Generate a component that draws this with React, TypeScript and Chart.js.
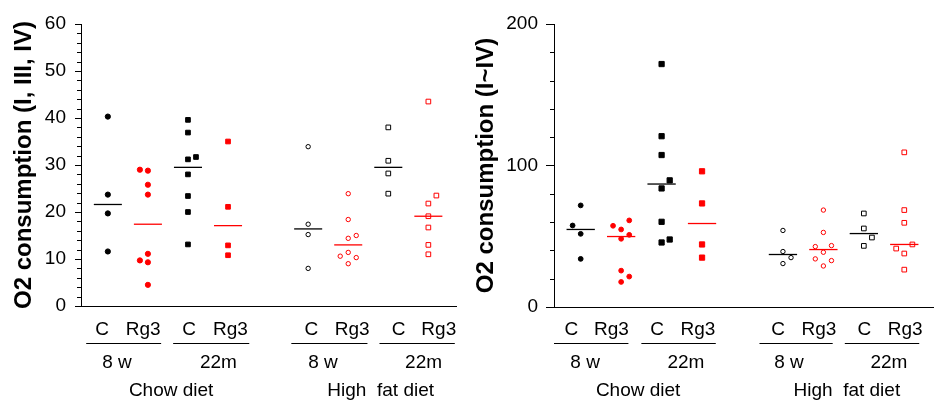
import React, { useEffect, useRef } from 'react';
import { Chart, registerables } from 'chart.js';

Chart.register(...registerables);

const FONT = "'Liberation Sans', Arial, sans-serif";
const RED = '#ff0000';
const BLACK = '#000000';

// Category positions on the x axis (gap between diets)
const groupPos = [0, 1, 2, 3, 5, 6, 7, 8];
const subLabels = ['C', 'Rg3', 'C', 'Rg3', 'C', 'Rg3', 'C', 'Rg3'];
const ageLabels = ['8 w', '22m', '8 w', '22m'];
const dietLabels = ['Chow diet', 'High  fat diet'];

// ---------- Left panel: O2 consumption (I, III, IV) ----------
const leftTicks = [0, 10, 20, 30, 40, 50, 60];
const L_chow8wC = [40.3, 23.7, 19.7, 11.6];
const L_chow8wC_j = [0, 0, 0, 0];
const L_chow8wRg3 = [29.0, 28.8, 25.8, 23.7, 11.1, 9.7, 9.3, 4.5];
const L_chow8wRg3_j = [-1, 0, 0, 0, 0, -1, 0, 0];
const L_chow22mC = [39.6, 36.9, 31.2, 31.7, 28.0, 23.4, 20.0, 13.1];
const L_chow22mC_j = [0, 0, 0, 1, 0, 0, 0, 0];
const L_chow22mRg3 = [35.0, 21.1, 12.9, 10.8];
const L_chow22mRg3_j = [0, 0, 0, 0];
const L_hfd8wC = [33.9, 17.4, 15.2, 8.0];
const L_hfd8wC_j = [0, 0, 0, 0];
const L_hfd8wRg3 = [23.9, 18.4, 14.4, 15.0, 11.4, 10.6, 10.3, 9.0];
const L_hfd8wRg3_j = [0, 0, 0, 1, 0, -1, 1, 0];
const L_hfd22mC = [38.0, 30.9, 28.2, 23.9];
const L_hfd22mC_j = [0, 0, 0, 0];
const L_hfd22mRg3 = [43.5, 23.5, 21.8, 19.1, 16.7, 13.0, 11.0];
const L_hfd22mRg3_j = [0, 1, 0, 0, 0, 0, 0];
const L_centers = [21.6, 17.4, 29.5, 17.1, 16.4, 13.0, 29.5, 19.1];

// ---------- Right panel: O2 consumption (I~IV) ----------
const rightTicks = [0, 100, 200];
const R_chow8wC = [71.8, 57.6, 51.7, 34.0];
const R_chow8wC_j = [0, -1, 0, 0];
const R_chow8wRg3 = [57.4, 61.2, 54.8, 48.2, 51.0, 25.7, 21.5, 17.7];
const R_chow8wRg3_j = [-1, 1, 0, 0, 1, 0, 1, 0];
const R_chow22mC = [171.7, 120.7, 107.4, 89.5, 83.8, 60.2, 47.7, 45.6];
const R_chow22mC_j = [0, 0, 0, 1, 0, 0, 1, 0];
const R_chow22mRg3 = [95.9, 73.2, 44.2, 34.9];
const R_chow22mRg3_j = [0, 0, 0, 0];
const R_hfd8wC = [54.1, 39.2, 34.9, 30.7];
const R_hfd8wC_j = [0, 0, 1, 0];
const R_hfd8wRg3 = [68.5, 52.7, 42.7, 43.4, 38.7, 34.0, 32.8, 29.0];
const R_hfd8wRg3_j = [0, 0, -1, 1, 0, -1, 1, 0];
const R_hfd22mC = [66.1, 55.5, 49.1, 43.2];
const R_hfd22mC_j = [0, 0, 1, 0];
const R_hfd22mRg3 = [109.3, 68.5, 59.5, 44.2, 41.3, 37.8, 26.4];
const R_hfd22mRg3_j = [0, 0, 0, 1, -1, 0, 0];
const R_centers = [54.8, 49.8, 86.9, 59.0, 37.1, 40.6, 51.9, 44.2];

type Style = { shape: 'circle' | 'rect'; filled: boolean; color: string };
const styles: Style[] = [
  { shape: 'circle', filled: true, color: BLACK },
  { shape: 'circle', filled: true, color: RED },
  { shape: 'rect', filled: true, color: BLACK },
  { shape: 'rect', filled: true, color: RED },
  { shape: 'circle', filled: false, color: BLACK },
  { shape: 'circle', filled: false, color: RED },
  { shape: 'rect', filled: false, color: BLACK },
  { shape: 'rect', filled: false, color: RED },
];

type PanelCfg = {
  values: number[][];
  jitter: number[][];
  centers: number[];
  ticks: number[];
  yMax: number;
  minorStep: number;
  title: string;
  width: number;
  left: number;
  yWidth: number;
  tickLen: number;
  tickPad: number;
  titlePad: number;
  padTop: number;
  padRight: number;
  padBottom: number;
  xMin: number;
  xMax: number;
  sizes: { fc: number; fr: number; oc: number; or: number };
  subPos: number[];
  linePos: number[][];
  agePos: number[];
  dietPos: number[];
};

const leftCfg: PanelCfg = {
  values: [L_chow8wC, L_chow8wRg3, L_chow22mC, L_chow22mRg3, L_hfd8wC, L_hfd8wRg3, L_hfd22mC, L_hfd22mRg3],
  jitter: [L_chow8wC_j, L_chow8wRg3_j, L_chow22mC_j, L_chow22mRg3_j, L_hfd8wC_j, L_hfd8wRg3_j, L_hfd22mC_j, L_hfd22mRg3_j],
  centers: L_centers,
  ticks: leftTicks,
  yMax: 60,
  minorStep: 2,
  title: 'O2 consumption (I, III, IV)',
  width: 470,
  left: 0,
  yWidth: 81,
  tickLen: 6,
  tickPad: 9,
  titlePad: 10,
  padTop: 24,
  padRight: 14,
  padBottom: 107,
  xMin: -0.67,
  xMax: 8.69,
  sizes: { fc: 2.6, fr: 3.3, oc: 2.2, or: 3.3 },
  subPos: [-0.14, 0.88, 2.03, 3.06, 5.08, 6.1, 7.26, 8.26],
  linePos: [[-0.54, 1.33], [1.63, 3.53], [4.58, 6.48], [6.78, 8.66]],
  agePos: [0.23, 2.76, 5.37, 7.88],
  dietPos: [1.58, 6.81],
};

const rightCfg: PanelCfg = {
  values: [R_chow8wC, R_chow8wRg3, R_chow22mC, R_chow22mRg3, R_hfd8wC, R_hfd8wRg3, R_hfd22mC, R_hfd22mRg3],
  jitter: [R_chow8wC_j, R_chow8wRg3_j, R_chow22mC_j, R_chow22mRg3_j, R_hfd8wC_j, R_hfd8wRg3_j, R_hfd22mC_j, R_hfd22mRg3_j],
  centers: R_centers,
  ticks: rightTicks,
  yMax: 200,
  minorStep: 20,
  title: 'O2 consumption (I~IV)',
  width: 468,
  left: 470,
  yWidth: 84,
  tickLen: 8,
  tickPad: 8,
  titlePad: 2,
  padTop: 24,
  padRight: 2,
  padBottom: 106,
  xMin: -0.66,
  xMax: 8.71,
  sizes: { fc: 2.4, fr: 3.7, oc: 2.2, or: 3.3 },
  subPos: [-0.23, 0.76, 1.89, 2.9, 4.88, 5.89, 7.01, 8.02],
  linePos: [[-0.66, 1.18], [1.5, 3.34], [4.42, 6.23], [6.53, 8.37]],
  agePos: [0.11, 2.6, 5.15, 7.62],
  dietPos: [1.42, 6.58],
};

const JIT = 0.2;
const HALF = 0.35;

function makeAnnotPlugin(cfg: PanelCfg) {
  return {
    id: 'annot',
    afterDraw(chart: any) {
      const { ctx, chartArea } = chart;
      const xs = chart.scales.x;
      const ys = chart.scales.y;
      ctx.save();
      ctx.strokeStyle = BLACK;
      ctx.lineWidth = 1;
      // minor ticks
      const majorStep = cfg.ticks[1] - cfg.ticks[0];
      const n = Math.round(cfg.yMax / cfg.minorStep);
      for (let k = 0; k <= n; k++) {
        const v = k * cfg.minorStep;
        const r = v / majorStep;
        if (Math.abs(r - Math.round(r)) < 1e-6) continue;
        const py = Math.round(ys.getPixelForValue(v)) + 0.5;
        ctx.beginPath();
        ctx.moveTo(chartArea.left - 4, py);
        ctx.lineTo(chartArea.left, py);
        ctx.stroke();
      }
      // category labels
      ctx.fillStyle = BLACK;
      ctx.font = `19px ${FONT}`;
      ctx.textAlign = 'center';
      ctx.textBaseline = 'alphabetic';
      subLabels.forEach((t, i) => {
        ctx.fillText(t, xs.getPixelForValue(cfg.subPos[i]), 335);
      });
      cfg.linePos.forEach(([a, b]) => {
        ctx.beginPath();
        ctx.moveTo(xs.getPixelForValue(a), 343.5);
        ctx.lineTo(xs.getPixelForValue(b), 343.5);
        ctx.stroke();
      });
      ageLabels.forEach((t, i) => {
        ctx.fillText(t, xs.getPixelForValue(cfg.agePos[i]), 368);
      });
      dietLabels.forEach((t, i) => {
        ctx.fillText(t, xs.getPixelForValue(cfg.dietPos[i]), 396);
      });
      ctx.restore();
    },
  };
}

function buildDatasets(cfg: PanelCfg) {
  const ds: any[] = [];
  cfg.values.forEach((vals, g) => {
    const st = styles[g];
    const r = st.shape === 'circle' ? (st.filled ? cfg.sizes.fc : cfg.sizes.oc) : st.filled ? cfg.sizes.fr : cfg.sizes.or;
    ds.push({
      type: 'scatter',
      data: vals.map((v, i) => ({ x: groupPos[g] + cfg.jitter[g][i] * JIT, y: v })),
      pointStyle: st.shape,
      pointRadius: r,
      pointBorderWidth: 1,
      pointBackgroundColor: st.filled ? st.color : '#ffffff',
      pointBorderColor: st.color,
      showLine: false,
      order: 2,
    });
  });
  cfg.centers.forEach((m, g) => {
    ds.push({
      type: 'scatter',
      data: [
        { x: groupPos[g] - HALF, y: m },
        { x: groupPos[g] + HALF, y: m },
      ],
      showLine: true,
      borderColor: styles[g].color,
      borderWidth: 1.3,
      pointRadius: 0,
      order: 1,
    });
  });
  return ds;
}

function Panel({ cfg }: { cfg: PanelCfg }) {
  const ref = useRef<HTMLCanvasElement | null>(null);
  useEffect(() => {
    if (!ref.current) return;
    const chart = new Chart(ref.current, {
      type: 'scatter',
      data: { datasets: buildDatasets(cfg) },
      plugins: [makeAnnotPlugin(cfg)],
      options: {
        responsive: false,
        animation: false,
        events: [],
        layout: { padding: { left: 0, top: cfg.padTop, right: cfg.padRight, bottom: cfg.padBottom } },
        plugins: {
          legend: { display: false },
          tooltip: { enabled: false },
        },
        scales: {
          x: {
            type: 'linear',
            min: cfg.xMin,
            max: cfg.xMax,
            grid: { display: false, drawTicks: false },
            border: { display: true, color: BLACK, width: 1 },
            ticks: { display: false },
            afterFit: (s: any) => {
              s.height = 0;
            },
          },
          y: {
            type: 'linear',
            min: 0,
            max: cfg.yMax,
            afterFit: (s: any) => {
              s.width = cfg.yWidth;
            },
            afterBuildTicks: (s: any) => {
              s.ticks = cfg.ticks.map((v) => ({ value: v }));
            },
            ticks: {
              color: BLACK,
              font: { family: FONT, size: 19 },
              padding: cfg.tickPad,
            },
            grid: { drawOnChartArea: false, drawTicks: true, tickLength: cfg.tickLen, color: BLACK, lineWidth: 1 },
            border: { display: true, color: BLACK, width: 1 },
            title: {
              display: true,
              text: cfg.title,
              color: BLACK,
              font: { family: FONT, size: 24, weight: 'bold' },
              padding: { top: cfg.titlePad, bottom: 0 },
            },
          },
        },
      } as any,
    });
    return () => chart.destroy();
  }, [cfg]);
  return (
    <canvas
      ref={ref}
      width={cfg.width}
      height={413}
      style={{ position: 'absolute', left: cfg.left, top: 0, width: cfg.width, height: 413 }}
    />
  );
}

export default function App() {
  return (
    <div style={{ position: 'fixed', left: 0, top: 0, width: 938, height: 413, background: '#ffffff', overflow: 'hidden' }}>
      <Panel cfg={leftCfg} />
      <Panel cfg={rightCfg} />
    </div>
  );
}
